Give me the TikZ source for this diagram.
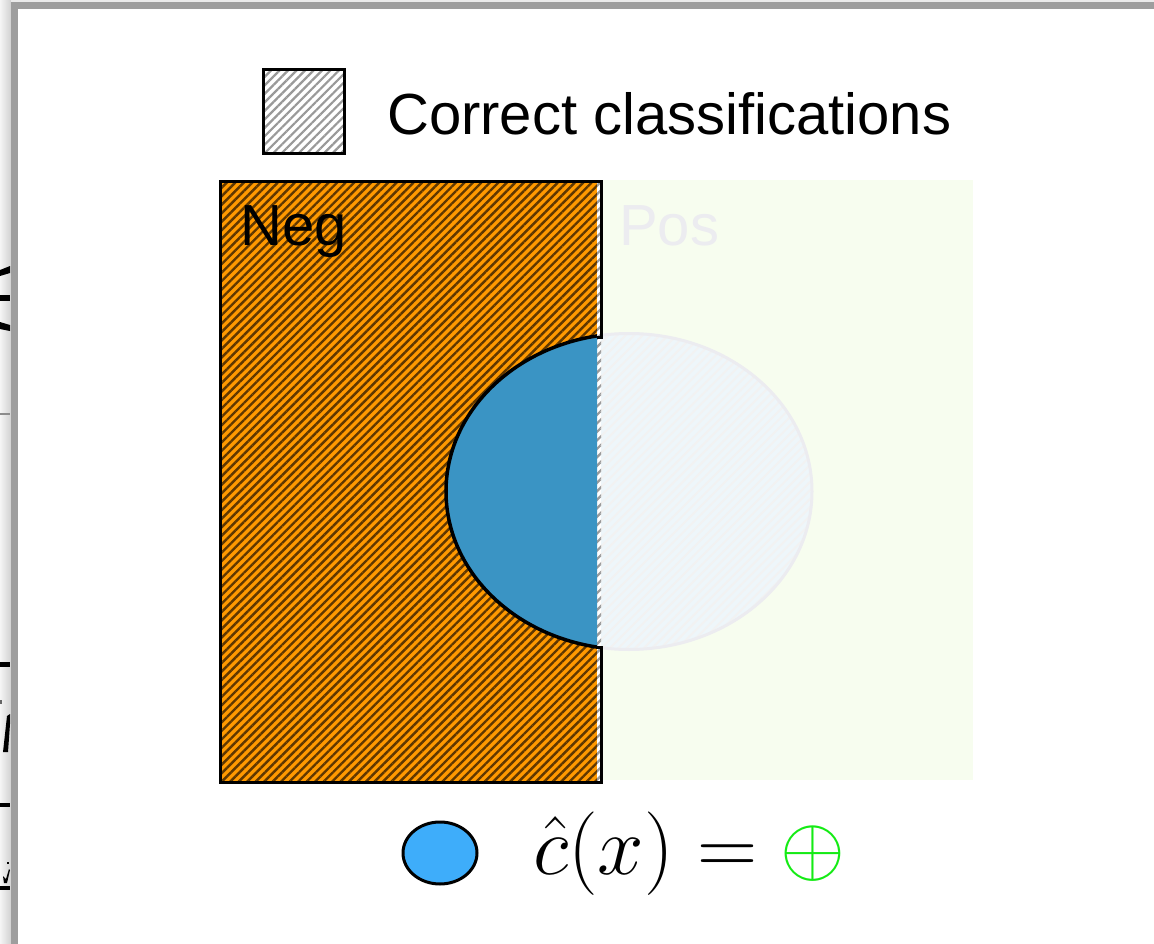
\RequirePackage{fix-cm}
\documentclass[tikz,border=0pt]{standalone}
\usepackage{fontspec}
\newfontfamily\hv{Liberation Sans}
\usetikzlibrary{patterns.meta}
\definecolor{negorange}{RGB}{255,153,0}
\definecolor{negstripe}{RGB}{95,55,0}
\definecolor{posgreen}{RGB}{247,253,239}
\definecolor{posgray}{RGB}{236,236,240}
\definecolor{ellblue}{RGB}{58,148,196}
\definecolor{elllight}{RGB}{238,246,250}
\definecolor{legblue}{RGB}{62,173,250}
\definecolor{plusgreen}{RGB}{20,235,20}
\definecolor{framegray}{RGB}{158,158,158}
\tikzset{
  hatchwhite/.style={pattern={Lines[angle=45,distance=6pt,line width=2.2pt]}, pattern color=black!40},
  hatchorange/.style={pattern={Lines[angle=45,distance=6pt,line width=2.4pt]}, pattern color=negstripe},
  hatchfaint/.style={pattern={Lines[angle=45,distance=6pt,line width=2pt]}, pattern color=black!5},
  bigtext/.style={font=\hv\fontsize{58}{70}\selectfont, inner sep=0pt, anchor=base west},
  outline/.style={line width=3pt, line join=miter},
}
\begin{document}
\begin{tikzpicture}[x=1pt,y=-1pt]
\useasboundingbox (0,0) rectangle (1154,944);
\fill[white] (0,0) rectangle (1154,944);
% window frame and shadow
\shade[left color=black!4, right color=black!18] (0,0) rectangle (11,944);
\fill[black!8] (11,0) rectangle (1154,2.5);
\fill[framegray] (11,2.5) rectangle (1154,9);
\fill[framegray] (11,2.5) rectangle (18,944);
% fragments of the window behind
\fill[black] (0,270) -- (10,266) -- (10,273) -- (0,276) -- cycle;
\fill[black] (0,295) rectangle (10,301);
\fill[black] (0,322) -- (10,325) -- (10,331) -- (0,329) -- cycle;
\fill[black!45] (0,412.5) rectangle (10,414.5);
\fill[black] (0,662) rectangle (10,667);
\fill[black!60] (0,700) rectangle (2,704);
\fill[black] (7,716) -- (10,714) -- (10,724) -- (8,752) -- (3,752) -- cycle;
\fill[black] (0,803) rectangle (10,807);
\fill[black] (3,876) -- (6,879) -- (9,869) -- (10,870) -- (7,883) -- (4,883) -- cycle;
\fill[black] (7,862) rectangle (9,864);
\fill[black] (0,886) rectangle (10,890);
% legend top
\fill[white] (263,70) rectangle (344,154);
\fill[hatchwhite] (263,70) rectangle (344,154);
\draw[outline] (263,70) rectangle (344,154);
\node[bigtext] (legtext) at (387,135) {Correct classifications};
% Pos region
\fill[posgreen] (601,180) rectangle (973,780);
\node[bigtext, text=posgray] (pos) at (619,246) {Pos};
% ellipse (light part)
\fill[elllight] (629,491.5) ellipse [x radius=183pt, y radius=158pt];
\fill[hatchfaint] (629,491.5) ellipse [x radius=183pt, y radius=158pt];
\draw[posgray, line width=3pt] (629,491.5) ellipse [x radius=183pt, y radius=158pt];
% Neg region
\fill[negorange] (220,182) rectangle (597,782);
\fill[hatchorange] (220,182) rectangle (597,782);
\fill[white] (597,182) rectangle (601,782);
\fill[hatchwhite] (597,182) rectangle (601,782);
\node[bigtext] (neg) at (240,245) {Neg};
% blue half of ellipse
\begin{scope}
  \clip (0,0) rectangle (597,944);
  \fill[ellblue] (629,491.5) ellipse [x radius=183pt, y radius=158pt];
  \draw[line width=3.5pt] (629,491.5) ellipse [x radius=183pt, y radius=158pt];
\end{scope}
\draw[outline] (597,337) -- (601,337) -- (601,182) -- (220,182) -- (220,782) -- (601,782) -- (601,647) -- (597,647);
% bottom legend
\draw[line width=3pt, fill=legblue] (440,853) ellipse [x radius=37pt, y radius=31pt];
\node[inner sep=0pt, anchor=base west, font=\fontsize{83.5}{95}\selectfont] (formula) at (533,874) {$\hat{c}(x) = {\color{plusgreen}\oplus}$};
\end{tikzpicture}
\end{document}
